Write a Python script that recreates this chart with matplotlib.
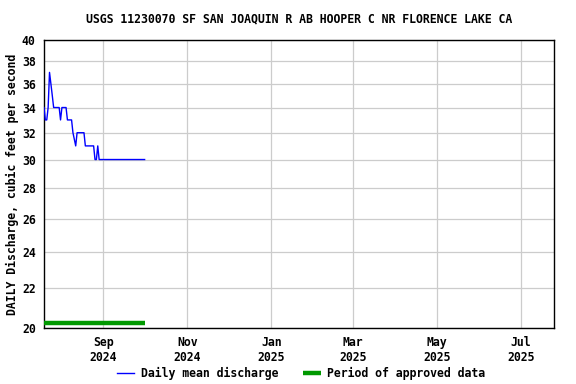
import matplotlib
matplotlib.use("Agg")
import matplotlib.pyplot as plt
import matplotlib.dates as mdates
from matplotlib.ticker import FixedLocator, NullLocator, FixedFormatter
import numpy as np
import pandas as pd

title = "USGS 11230070 SF SAN JOAQUIN R AB HOOPER C NR FLORENCE LAKE CA"
ylabel = "DAILY Discharge, cubic feet per second"
start_date = "2024-07-20"
discharge = [34, 33, 33, 34, 37, 36, 35, 34, 34, 34,
             34, 34, 33, 34, 34, 34, 34, 33, 33, 33,
             33, 32, 31.5, 31, 32, 32, 32, 32, 32, 32,
             31, 31, 31, 31, 31, 31, 31, 30, 30, 31,
             30, 30, 30, 30, 30, 30, 30, 30, 30, 30,
             30, 30, 30, 30, 30, 30, 30, 30, 30, 30,
             30, 30, 30, 30, 30, 30, 30, 30, 30, 30,
             30, 30, 30, 30]
approved_start = "2024-07-20"
approved_end = "2024-10-01"
approved_level = 20.25
yticks = [20, 22, 24, 26, 28, 30, 32, 34, 36, 38, 40]
xtick_dates = ["2024-09-01", "2024-11-01", "2025-01-01", "2025-03-01", "2025-05-01", "2025-07-01"]
xtick_labels = ["Sep\n2024", "Nov\n2024", "Jan\n2025", "Mar\n2025", "May\n2025", "Jul\n2025"]
xlim = ("2024-07-20", "2025-07-25")

dates = pd.date_range(start_date, periods=len(discharge), freq="D")

FS = 8.3
font = {"family": "DejaVu Sans Mono", "weight": "bold", "size": FS}

fig = plt.figure(figsize=(5.76, 3.84), dpi=100)
ax = fig.add_axes([44/576, 1-328/384, (554-44)/576, (328-40)/384])

ax.set_yscale("log")
ax.set_ylim(20, 40)
ax.set_xlim(pd.Timestamp(xlim[0]), pd.Timestamp(xlim[1]))

ax.plot(dates, discharge, color="#0000ff", lw=1.0, zorder=3, label="Daily mean discharge")
ax.plot([pd.Timestamp(approved_start), pd.Timestamp(approved_end)], [approved_level, approved_level],
        color="#009900", lw=3.2, solid_capstyle="butt", zorder=3, label="Period of approved data")

ax.yaxis.set_major_locator(FixedLocator(yticks))
ax.yaxis.set_major_formatter(FixedFormatter([str(v) for v in yticks]))
ax.yaxis.set_minor_locator(NullLocator())
xt = [mdates.date2num(pd.Timestamp(d)) for d in xtick_dates]
ax.xaxis.set_major_locator(FixedLocator(xt))
ax.xaxis.set_major_formatter(FixedFormatter(xtick_labels))
ax.xaxis.set_minor_locator(NullLocator())

ax.grid(True, color="#cccccc", lw=0.9)
ax.set_axisbelow(True)
ax.tick_params(length=0, pad=6)
for lab in ax.get_xticklabels() + ax.get_yticklabels():
    lab.set_fontfamily("DejaVu Sans Mono")
    lab.set_fontweight("bold")
    lab.set_fontsize(FS)
for s in ax.spines.values():
    s.set_linewidth(1.0)
    s.set_color("black")

fig.text(299/576, 1-19/384, title, ha="center", va="center", **font)
fig.text(12/576, 1-184/384, ylabel, ha="center", va="center", rotation=90, **font)

leg = fig.legend(loc="center", bbox_to_anchor=(301/576, 1-373/384), ncol=2, frameon=False,
                 prop={"family": "DejaVu Sans Mono", "weight": "bold", "size": FS},
                 handlelength=1.5, columnspacing=2.2, handletextpad=0.55)

fig.savefig("out.png", dpi=100)
